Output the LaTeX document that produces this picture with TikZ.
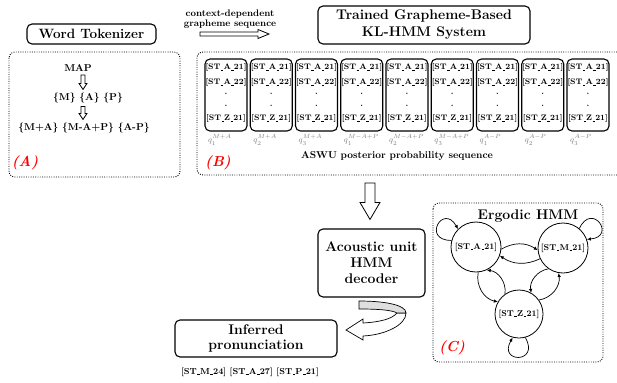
\documentclass[tikz,border=0pt]{standalone}
\usetikzlibrary{arrows.meta,calc}
\newcommand\usc{\leavevmode\kern.06em\vbox{\hrule width.3em height 0.45pt}\kern.02em}
\newcommand\vharrow[5]{%
  \path[harrow] let \p1=#1, \p2=#2 in
   (\x1-#3,\y1) -- (\x1-#3,\y2+#5) -- (\x1-#4,\y2+#5) -- (\x1,\y2)
   -- (\x1+#4,\y2+#5) -- (\x1+#3,\y2+#5) -- (\x1+#3,\y1) -- cycle;}
\begin{document}
\begin{tikzpicture}[x=1pt,y=1pt,
  rbox/.style={draw, line width=1.1pt, rounded corners=5pt, inner sep=0pt, align=center},
  dotbox/.style={draw, line width=0.9pt, dash pattern=on 0.9pt off 1.4pt, rounded corners=6pt},
  colbox/.style={draw, line width=1.1pt, rounded corners=5pt, minimum width=42pt, minimum height=72pt, inner sep=0pt},
  coltxt/.style={font=\fontsize{8}{9}\selectfont\bfseries, inner sep=0pt},
  qlab/.style={font=\fontsize{8}{9}\selectfont, text=gray, anchor=west, inner sep=0pt},
  tag/.style={font=\fontsize{14.5}{16}\selectfont\bfseries\itshape, text=red},
  state/.style={circle, draw, line width=0.8pt, minimum size=49pt, inner sep=0pt, font=\fontsize{8.5}{9}\selectfont\bfseries},
  harrow/.style={draw, line width=0.8pt, fill=white},
  tr/.style={-{Latex[length=4pt,width=3.5pt]}, line width=0.7pt}
]
\useasboundingbox (0,0) rectangle (617,-382);

% ---------- (A) tokenizer ----------
\draw[dotbox] (9,-52) rectangle (180,-177);
\node[rbox, minimum width=129pt, minimum height=20pt, font=\fontsize{13.5}{15}\selectfont\bfseries] (tok) at (91.5,-34) {Word Tokenizer};
\node[font=\fontsize{10}{12}\selectfont\bfseries] (map) at (78,-68) {MAP};
\node[font=\fontsize{10}{12}\selectfont\bfseries] (units) at (88,-98) {\{M\} \{A\} \{P\}};
\node[font=\fontsize{10}{12}\selectfont\bfseries] (ctx) at (84,-128) {\{M+A\} \{M-A+P\} \{A-P\}};
\vharrow{($(map.south)+(5,0)$)}{(units.north)}{2}{4}{6}
\vharrow{($(units.south)+(-5,0)$)}{(ctx.north)}{2}{4}{6}
\node[tag] (tagA) at (25,-163) {(A)};

% ---------- context arrow ----------
\node[font=\fontsize{9.5}{10}\selectfont\bfseries, align=center] (ctxlbl) at (230,-19) {context-dependent\\grapheme sequence};
\coordinate (ca) at (200,-34);
\coordinate (cb) at (269,-34);
\path[harrow] let \p1=(ca), \p2=(cb) in
  (\x1,\y1+2) -- (\x2-11,\y1+2) -- (\x2-11,\y1+4.5) -- (\x2,\y1) -- (\x2-11,\y1-4.5) -- (\x2-11,\y1-2) -- (\x1,\y1-2) -- cycle;

% ---------- (B) KL-HMM ----------
\node[rbox, minimum width=212pt, minimum height=38pt, font=\fontsize{14}{17}\selectfont\bfseries] (kl) at (424,-25) {Trained Grapheme-Based\\KL-HMM System};
\draw[dotbox] (617,-52) -- (197,-52) -- (197,-175) -- (617,-175);
\foreach \i/\s/\l in {0/1/M+A,1/2/M+A,2/3/M+A,3/1/M-A+P,4/2/M-A+P,5/3/M-A+P,6/1/A-P,7/2/A-P,8/3/A-P} {
  \pgfmathsetmacro\cx{226+45.25*\i}
  \node[colbox] (col\i) at (\cx,-95) {};
  \node[coltxt] (ra\i) at (\cx,-68) {[ST\usc A\usc 21]};
  \node[coltxt] (rb\i) at (\cx,-83) {[ST\usc A\usc 22]};
  \node[coltxt] (rc\i) at (\cx,-94) {.};
  \node[coltxt] (rd\i) at (\cx,-106) {.};
  \node[coltxt] (re\i) at (\cx,-119) {[ST\usc Z\usc 21]};
  \node[qlab] (q\i) at (\cx-18,-140) {$q_{\s}^{\l}$};
}
\node[font=\fontsize{10}{12}\selectfont\bfseries] (aswu) at (397,-156) {ASWU posterior probability sequence};
\node[tag] (tagB) at (218,-163) {(B)};

% ---------- decoder ----------
\node[rbox, minimum width=107pt, minimum height=68pt, font=\fontsize{14}{16}\selectfont\bfseries] (dec) at (371.5,-263) {Acoustic unit\\HMM\\decoder};
\coordinate (ba) at (370,-183);
\path[harrow] let \p1=(ba), \p2=($(dec.north)+(0,9)$) in
  (\x1-5,\y1) -- (\x1-5,\y2+17) -- (\x1-10,\y2+17) -- (\x1,\y2) -- (\x1+10,\y2+17) -- (\x1+5,\y2+17) -- (\x1+5,\y1) -- cycle;

\node[rbox, minimum width=162pt, minimum height=37pt, font=\fontsize{14}{15.5}\selectfont\bfseries] (inf) at (256,-338.5) {Inferred\\pronunciation};
\node[font=\fontsize{8.7}{10}\selectfont\bfseries] (out) at (250,-372) {[ST\usc M\usc 24] [ST\usc A\usc 27] [ST\usc P\usc 21]};

% curved ribbon arrow
\draw[line width=0.7pt, fill=white] (406,-313) .. controls (406,-325) and (385,-335) .. (363,-336)
  -- (363,-340) -- (346,-330) -- (363,-319) -- (363,-323)
  .. controls (380,-322) and (392,-319) .. (397,-313) -- cycle;
\draw[line width=0.7pt, fill=gray!25] (359,-301) .. controls (385,-301) and (406,-305) .. (406,-313)
  -- (397,-313) .. controls (392,-310) and (378,-309) .. (359,-309) -- cycle;

% ---------- (C) ergodic HMM ----------
\draw[dotbox] (433,-203) rectangle (603,-362);
\node[font=\fontsize{14}{16}\selectfont\bfseries] (erg) at (528,-216) {Ergodic HMM};
\node[state, minimum size=50pt] (A) at (476,-247) {[ST\usc A\usc 21]};
\node[state, minimum size=50pt] (M) at (563,-248) {[ST\usc M\usc 21]};
\node[state, minimum size=48pt] (Z) at (519,-314) {[ST\usc Z\usc 21]};
\draw[tr] (A.-5) to[bend left=32] (M.-175);
\draw[tr] (M.-155) to[bend left=30] (A.-20);
\draw[tr] (A.-85) to[bend right=45] (Z.150);
\draw[tr] (Z.125) to[bend right=45] (A.-65);
\draw[tr] (M.-125) to[bend right=45] (Z.60);
\draw[tr] (Z.35) to[bend right=45] (M.-100);
\draw[tr] (A.165) .. controls +(180:30) and +(120:30) .. (A.135);
\draw[tr] (M.50) .. controls +(65:30) and +(5:30) .. (M.20);
\draw[tr] (Z.-75) .. controls +(-60:30) and +(-120:30) .. (Z.-105);
\node[tag] (tagC) at (452,-348) {(C)};
\end{tikzpicture}
\end{document}
